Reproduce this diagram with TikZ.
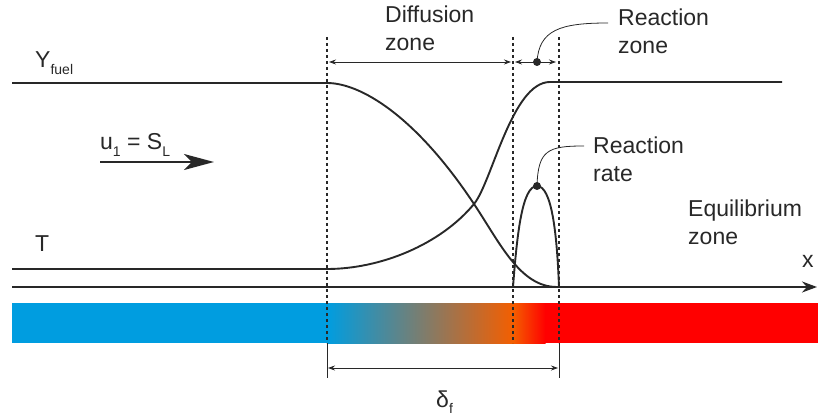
\documentclass[tikz,border=0pt]{standalone}
\usepackage{fontspec}
\setmainfont{Liberation Sans}
\usetikzlibrary{arrows.meta,positioning,calc}
\definecolor{barblue}{RGB}{0,157,224}
\definecolor{barmid}{RGB}{160,132,138}
\definecolor{barorange}{RGB}{244,94,0}
\definecolor{barred}{RGB}{255,0,0}
\definecolor{ink}{RGB}{40,40,40}
\newcommand{\lowsub}[1]{\raisebox{-0.3em}{\fontsize{14}{14}\selectfont #1}}

\begin{document}
\begin{tikzpicture}[x=1pt,y=-1pt,>=Stealth,font=\fontsize{23}{28}\selectfont,color=ink]
\tikzstyle{curve}=[line width=1.9pt]
\tikzstyle{guide}=[line width=1.3pt,dash pattern=on 3pt off 3pt]
\tikzstyle{ext}=[line width=0.6pt]
\tikzstyle{dim}=[line width=0.8pt,{Stealth[length=7pt,width=5pt]}-{Stealth[length=7pt,width=5pt]}]
\tikzstyle{lead}=[line width=0.8pt]
\tikzstyle{lbl}=[inner sep=0pt,align=left]
\useasboundingbox (0,0) rectangle (818,419);
\fill[barblue] (12,303) rectangle (327.5,343);
\shade[left color=barblue,middle color=barmid,right color=barorange] (327,303) rectangle (513.5,343);
\shade[left color=barorange,right color=barred] (513,303) rectangle (545.5,343);
\fill[barred] (545,303) rectangle (818,343);
\coordinate (gat) at (327,37); \coordinate (gab) at (327,343); \coordinate (gae) at (327,378);
\coordinate (gbt) at (513,37); \coordinate (gbb) at (513,343);
\coordinate (gct) at (559,37); \coordinate (gcb) at (559,343); \coordinate (gce) at (559,378);
\draw[guide] (gat)--(gab); \draw[guide] (gbt)--(gbb); \draw[guide] (gct)--(gcb);
\draw[ext] (gab)--(gae); \draw[ext] (gcb)--(gce);
\coordinate (dza) at (327,62); \coordinate (dzb) at (513,62); \coordinate (rzb) at (559,62);
\coordinate (dfa) at (327,368); \coordinate (dfb) at (559,368);
\draw[dim,shorten <=2pt,shorten >=2pt] (dza)--(dzb);
\draw[dim,shorten <=2pt,shorten >=3pt] (dzb)--(rzb);
\draw[dim,shorten <=1pt,shorten >=1pt] (dfa)--(dfb);
\coordinate (ax0) at (12,287); \coordinate (ax1) at (817,287);
\draw[curve,-{Stealth[length=15pt,width=11pt]}] (ax0)--(ax1);
\coordinate (tl0) at (12,269); \coordinate (tl1) at (327,269); \coordinate (tr1) at (782,82);
\draw[curve] (tl0)--(tl1) .. controls (380,269) and (440,245) .. (474,204) .. controls (492,182) and (512,82) .. (550,82)--(tr1);
\coordinate (yl0) at (12,83); \coordinate (yl1) at (327,83); \coordinate (yr1) at (557,287);
\draw[curve] (yl0)--(yl1) .. controls (360,83) and (415,115) .. (474,204) .. controls (500,243) and (520,287) .. (yr1);
\coordinate (rr0) at (513,287); \coordinate (rpk) at (537,186); \coordinate (rr1) at (559,287);
\draw[curve] (rr0) .. controls (517,235) and (522,186) .. (rpk) .. controls (552,186) and (557,235) .. (rr1);
\coordinate (rzd) at (537,62); \coordinate (rzend) at (608,23); \coordinate (rrend) at (584,146);
\fill (rpk) circle (4pt); \fill (rzd) circle (4pt);
\draw[lead] (rpk) .. controls (538,150) and (548,146) .. (rrend);
\draw[lead] (rzd) .. controls (539,30) and (560,23) .. (rzend);
\coordinate (ua) at (100,162); \coordinate (ub) at (214,162);
\draw[curve,-{Stealth[length=30pt,width=16pt,inset=8pt]}] (ua)--(ub);
\node[lbl,anchor=north west] (diff) at (385,6) {Diffusion\\zone};
\node[lbl,anchor=north west] (rzone) at (618,8.5) {Reaction\\zone};
\node[lbl,anchor=north west] (rrate) at (593,136.5) {Reaction\\rate};
\node[lbl,anchor=north west] (equil) at (688,200) {Equilibrium\\zone};
\node[lbl,anchor=base west] (yfuel) at (35,68) {Y\lowsub{fuel}};
\node[lbl,anchor=base west] (temp) at (35,252) {T};
\node[lbl,anchor=base west] (speed) at (100,150) {u\lowsub{1} = S\lowsub{L}};
\node[lbl,anchor=base west] (xax) at (802,268) {x};
\node[lbl,anchor=base west] (delta) at (436,407) {δ\lowsub{f}};
\end{tikzpicture}
\end{document}
